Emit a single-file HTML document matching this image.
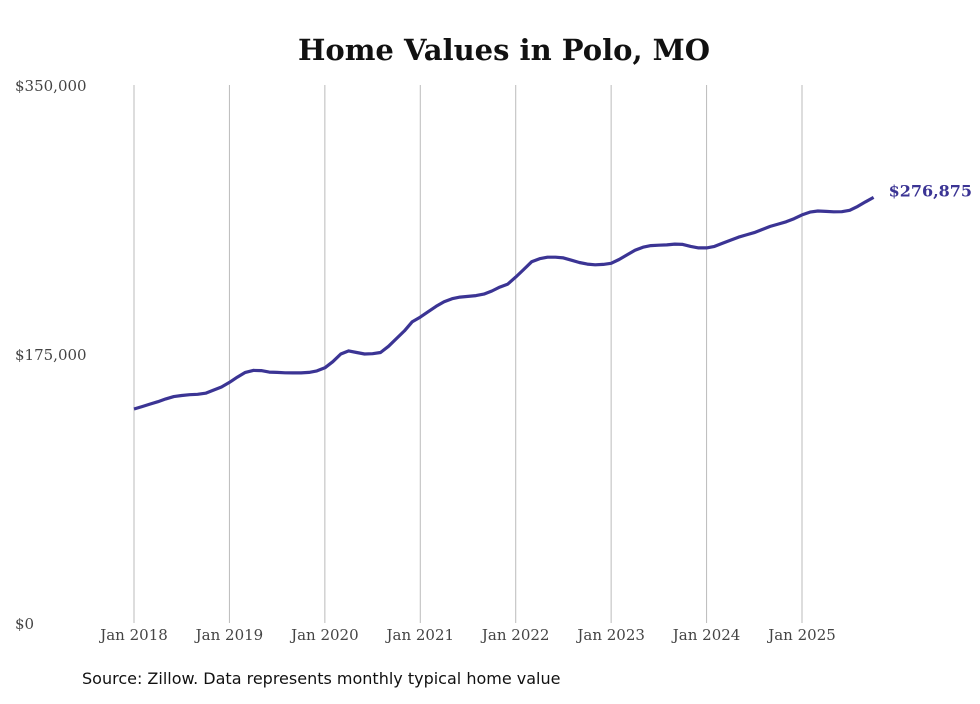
<!DOCTYPE html>
<html><head><meta charset="utf-8"><style>
body{margin:0;background:#fff;}
svg text{font-family:"DejaVu Serif","Liberation Serif",serif;}
</style></head><body>
<svg width="980" height="699" viewBox="0 0 980 699">
<text x="504" y="60" text-anchor="middle" font-size="29" font-weight="bold" fill="#111">Home Values in Polo, MO</text>
<g id="grid"></g><g id="yax"></g><g id="xax"></g>
<path id="line" fill="none" stroke="#3b3494" stroke-width="3.2" stroke-linejoin="round"/>
<text id="endlbl" font-size="16" font-weight="bold" fill="#3b3494"></text>
<text x="82" y="684" font-size="16" fill="#111" style="font-family:'DejaVu Sans',sans-serif">Source: Zillow. Data represents monthly typical home value</text>
</svg>
<script>
const yearLabels=["Jan 2018","Jan 2019","Jan 2020","Jan 2021","Jan 2022","Jan 2023","Jan 2024","Jan 2025"];
const yTicks=[0,175000,350000];
const yTickLabels=["$0","$175,000","$350,000"];
const values=[
139.2,140.8,142.4,144,145.8,147.3,148,148.5,148.8,149.5,151.5,153.5,
156.5,160,163,164.3,164.2,163.2,163,162.8,162.7,162.7,163,164,
166,170,175,177,176,175,175.2,176,180,185,190,196,
199,202.5,206,209,211,212,212.5,213,214,216,218.5,220.5,
225,230,235,237,238,238,237.5,236,234.5,233.5,233,233.3,
234,236.5,239.5,242.5,244.5,245.5,245.8,246,246.5,246.3,245,244,
244,245,247,249,251,252.5,254,256,258,259.5,261,263,
265.5,267.3,268,267.8,267.5,267.6,268.5,271,274,276.875];
const lastLabel="$276,875";
const NS="http://www.w3.org/2000/svg";
const x=m=>134+m*(802-134)/84;
const y=v=>623-v/350000*538;
const grid=document.getElementById('grid'),xax=document.getElementById('xax'),yax=document.getElementById('yax');
yearLabels.forEach((l,i)=>{
 const ln=document.createElementNS(NS,'line');
 
 
 ln.setAttribute('x1',x(i*12));ln.setAttribute('x2',x(i*12));ln.setAttribute('y1',85);ln.setAttribute('y2',623);
 ln.setAttribute('stroke','#bbb');ln.setAttribute('stroke-width','1');grid.appendChild(ln);
 const t=document.createElementNS(NS,'text');
 
 
 t.setAttribute('x',x(i*12));t.setAttribute('y',640);t.setAttribute('text-anchor','middle');t.setAttribute('font-size','15');t.setAttribute('fill','#444');
 t.textContent=l;xax.appendChild(t);
});
yTicks.forEach((v,i)=>{
 const t=document.createElementNS(NS,'text');
 
 
 t.setAttribute('x',15);t.setAttribute('y',y(v)+6);t.setAttribute('font-size','15');t.setAttribute('fill','#444');
 t.textContent=yTickLabels[i];yax.appendChild(t);
});
document.getElementById('line').setAttribute('d',values.map((v,i)=>(i?'L':'M')+x(i).toFixed(1)+','+y(v*1000).toFixed(1)).join(''));
const el=document.getElementById('endlbl');const n=values.length-1;
el.setAttribute('x',x(n)+15);el.setAttribute('y',y(values[n]*1000)-1);el.textContent=lastLabel;
</script>
</body></html>
